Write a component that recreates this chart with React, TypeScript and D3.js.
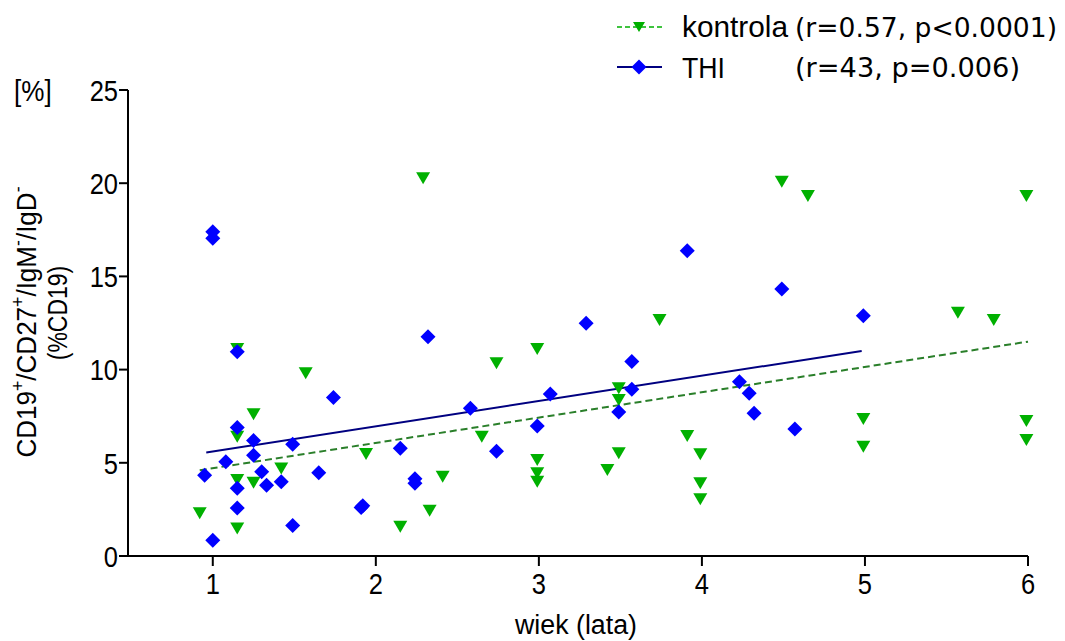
import React from 'react'
import { scaleLinear, line } from 'd3'

// kontrola (green triangles)
const kontrolaAge = [0.92, 1.15, 1.15, 1.15, 1.15, 1.25, 1.25, 1.42, 1.57, 1.94, 2.15, 2.29, 2.33, 2.41, 2.65, 2.74, 2.99, 2.99, 2.99, 2.99, 3.42, 3.49, 3.49, 3.49, 3.74, 3.91, 3.99, 3.99, 3.99, 4.49, 4.65, 4.99, 4.99, 5.57, 5.79, 5.99, 5.99, 5.99]
const kontrolaVal = [2.3, 1.48, 4.08, 6.4, 11.1, 7.6, 3.93, 4.7, 9.8, 5.47, 1.57, 20.26, 2.43, 4.25, 6.4, 10.34, 11.1, 5.15, 4.44, 3.99, 4.61, 9.0, 8.37, 5.51, 12.66, 6.44, 5.46, 3.9, 3.04, 20.08, 19.31, 7.35, 5.86, 13.05, 12.66, 19.31, 7.24, 6.22]

// THI (blue diamonds)
const thiAge = [0.95, 1.0, 1.0, 1.0, 1.08, 1.15, 1.15, 1.15, 1.15, 1.25, 1.25, 1.3, 1.33, 1.42, 1.49, 1.49, 1.65, 1.74, 1.91, 1.92, 2.15, 2.24, 2.24, 2.32, 2.58, 2.74, 2.99, 3.07, 3.29, 3.49, 3.57, 3.57, 3.91, 4.23, 4.29, 4.32, 4.49, 4.57, 4.99]
const thiVal = [4.33, 0.84, 17.05, 17.4, 5.06, 2.57, 3.63, 6.9, 10.96, 6.2, 5.4, 4.52, 3.79, 3.99, 6.0, 1.63, 4.47, 8.5, 2.6, 2.7, 5.78, 4.15, 3.9, 11.76, 7.92, 5.62, 6.97, 8.69, 12.48, 7.73, 8.94, 10.44, 16.38, 9.35, 8.73, 7.66, 14.32, 6.81, 12.89]

// regression lines (start/end)
const fitKontrolaX = [0.92, 6]
const fitKontrolaY = [4.6, 11.5]
const fitThiX = [0.96, 4.98]
const fitThiY = [5.55, 11.0]

const xTicks = [1, 2, 3, 4, 5, 6]
const yTicks = [0, 5, 10, 15, 20, 25]

const GREEN = '#00b000'
const BLUE = '#0000ff'
const NAVY = '#000080'
const DKGREEN = '#2a7f2a'
const sans = '"Liberation Sans", Arial, sans-serif'
const deja = '"DejaVu Sans", sans-serif'

const tri = 'M-7,-6L7,-6L0,6Z'
const triSmall = 'M-6,-5L6,-5L0,5Z'
const dia = 'M0,-7.5L7.5,0L0,7.5L-7.5,0Z'

const App = () => {
  const x = scaleLinear().domain([0.48, 6]).range([128, 1028])
  const y = scaleLinear().domain([0, 25]).range([556, 90])
  const ln = line<[number, number]>().x(d => x(d[0])).y(d => y(d[1]))

  return (
    <svg width={1065} height={641} style={{ position: 'absolute', left: 0, top: 0, background: '#fff' }}>
      {/* axes */}
      <line x1={x(0.48)} x2={x(6)} y1={y(0)} y2={y(0)} stroke="#000" strokeWidth={2} />
      <line x1={x(0.48)} x2={x(0.48)} y1={y(0)} y2={y(25)} stroke="#000" strokeWidth={2} />
      {yTicks.map(t => (
        <g key={'y' + t}>
          <line x1={x(0.48) - 9} x2={x(0.48)} y1={y(t)} y2={y(t)} stroke="#000" strokeWidth={2} />
          <text transform={`translate(${x(0.48) - 10},${y(t)}) scale(0.85,1)`} dy="0.36em" textAnchor="end" fontFamily={sans} fontSize={30}>{t}</text>
        </g>
      ))}
      {xTicks.map(t => (
        <g key={'x' + t}>
          <line x1={x(t)} x2={x(t)} y1={y(0)} y2={y(0) + 10} stroke="#000" strokeWidth={2} />
          <text transform={`translate(${x(t)},${y(0) + 38}) scale(0.85,1)`} textAnchor="middle" fontFamily={sans} fontSize={30}>{t}</text>
        </g>
      ))}
      <text x={515} y={634} textLength={122} lengthAdjust="spacingAndGlyphs" fontFamily={sans} fontSize={27}>wiek (lata)</text>
      <text transform="translate(14,101) scale(0.9,1)" fontFamily={sans} fontSize={29}>[%]</text>
      <g transform="translate(36,322) rotate(-90) scale(0.93,1)" fontFamily={sans} fontSize={28}>
        <text textAnchor="middle">
          CD19<tspan dy={-12} fontSize={19}>+</tspan><tspan dy={12}>/CD27</tspan><tspan dy={-12} fontSize={19}>+</tspan><tspan dy={12}>/IgM</tspan><tspan dy={-12} fontSize={19}>-</tspan><tspan dy={12}>/IgD</tspan><tspan dy={-12} fontSize={19}>-</tspan>
        </text>
      </g>
      <text transform="translate(67,313) rotate(-90) scale(0.82,1)" textAnchor="middle" fontFamily={sans} fontSize={28}>(%CD19)</text>

      {/* fit lines */}
      <path d={ln([[fitKontrolaX[0], fitKontrolaY[0]], [fitKontrolaX[1], fitKontrolaY[1]]]) || ''} stroke={DKGREEN} strokeWidth={2} strokeDasharray="7,4" fill="none" />
      <path d={ln([[fitThiX[0], fitThiY[0]], [fitThiX[1], fitThiY[1]]]) || ''} stroke={NAVY} strokeWidth={2} fill="none" />

      {/* points */}
      {kontrolaAge.map((a, i) => (
        <path key={'k' + i} d={tri} transform={`translate(${x(a)},${y(kontrolaVal[i])})`} fill={GREEN} />
      ))}
      {thiAge.map((a, i) => (
        <path key={'t' + i} d={dia} transform={`translate(${x(a)},${y(thiVal[i])})`} fill={BLUE} />
      ))}

      {/* legend */}
      <line x1={617} x2={662} y1={27} y2={27} stroke={GREEN} strokeWidth={1.5} strokeDasharray="5,3" />
      <path d={triSmall} transform="translate(639,27)" fill={GREEN} />
      <text x={682} y={37} textLength={106} lengthAdjust="spacingAndGlyphs" fontFamily={sans} fontSize={30}>kontrola</text>
      <text x={795} y={37} textLength={262} lengthAdjust="spacingAndGlyphs" fontFamily={deja} fontSize={26}>(r=0.57, p&lt;0.0001)</text>
      <line x1={617} x2={662} y1={67} y2={67} stroke={NAVY} strokeWidth={2} />
      <path d={dia} transform="translate(639,67)" fill={BLUE} />
      <text x={682} y={78} textLength={43} lengthAdjust="spacingAndGlyphs" fontFamily={sans} fontSize={30}>THI</text>
      <text x={795} y={77} textLength={225} lengthAdjust="spacingAndGlyphs" fontFamily={deja} fontSize={26}>(r=43, p=0.006)</text>
    </svg>
  )
}

export default App
